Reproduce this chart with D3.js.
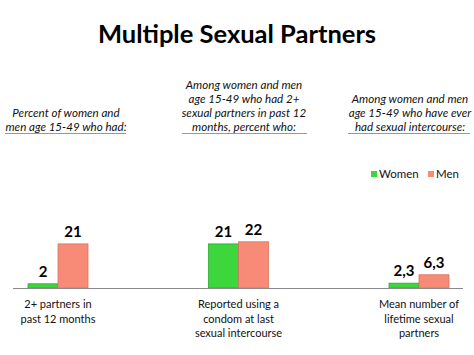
<!DOCTYPE html>
<html>
<head>
<meta charset="utf-8">
<script src="https://cdn.jsdelivr.net/npm/d3@7"></script>
<style>
  html, body { margin: 0; padding: 0; background: #fff; }
  svg { display: block; }
</style>
</head>
<body>
<svg id="chart" width="474" height="355"></svg>
<script>
const categories = ["2+ partners in|past 12 months", "Reported using a|condom at last|sexual intercourse", "Mean number of|lifetime sexual|partners"];
const seriesNames = ["Women", "Men"];
const women = [2, 21, 2.3];
const men = [21, 22, 6.3];
const womenLabels = ["2", "21", "2,3"];
const menLabels = ["21", "22", "6,3"];
const headers = [
  "Percent of women and|men age 15-49 who had:",
  "Among women and men|age 15-49 who had 2+|sexual partners in past 12|months, percent who:",
  "Among women and men|age 15-49 who have ever|had sexual intercourse:"
];
const title = "Multiple Sexual Partners";

const colors = { Women: "#3dd63d", Men: "#f88b78" };
const strokes = { Women: "#2ea82e", Men: "#d8735f" };

const svg = d3.select("#chart");
const font = "Lato, 'Open Sans', sans-serif";

// Title
svg.append("text")
  .attr("x", 237).attr("y", 43)
  .attr("text-anchor", "middle")
  .attr("font-family", font)
  .attr("font-weight", "bold")
  .attr("font-size", 25.5)
  .attr("fill", "#000")
  .text(title);

// Scales
const baseline = 288;
const y = d3.scaleLinear().domain([0, 22]).range([baseline, baseline - 46.2]);
const x0 = d3.scalePoint().domain(categories).range([58, 419]);
const x1 = d3.scaleBand().domain(seriesNames).range([-30, 30]).padding(0);

// Header annotations
const headerPos = [
  { cx: 66, lastY: 127, x1: 5, x2: 126 },
  { cx: 244, lastY: 127, x1: 182, x2: 307 },
  { cx: 410, lastY: 127, x1: 348, x2: 470 }
];
headers.forEach((h, i) => {
  const lines = h.split("|");
  const p = headerPos[i];
  const t = svg.append("text")
    .attr("text-anchor", "middle")
    .attr("font-family", font)
    .attr("font-style", "italic")
    .attr("font-size", 11.6)
    .attr("fill", "#111");
  lines.forEach((ln, j) => {
    t.append("tspan")
      .attr("x", p.cx)
      .attr("y", p.lastY + 4 - (lines.length - 1 - j) * 14)
      .text(ln);
  });
  svg.append("line")
    .attr("x1", p.x1).attr("x2", p.x2)
    .attr("y1", 133.5).attr("y2", 133.5)
    .attr("stroke", "#999").attr("stroke-width", 1);
});

// Legend
const legend = svg.append("g").attr("font-family", font).attr("font-size", 11.5);
const legendX = [371, 428];
seriesNames.forEach((s, i) => {
  legend.append("rect")
    .attr("x", legendX[i]).attr("y", 171)
    .attr("width", 6).attr("height", 6)
    .attr("fill", colors[s]);
  legend.append("text")
    .attr("x", legendX[i] + 8).attr("y", 178)
    .attr("fill", "#111")
    .text(s);
});

// Data
const data = categories.map((c, i) => ({
  cat: c,
  vals: [
    { s: "Women", v: women[i], label: womenLabels[i] },
    { s: "Men", v: men[i], label: menLabels[i] }
  ]
}));

const groups = svg.selectAll("g.grp").data(data).enter().append("g")
  .attr("class", "grp")
  .attr("transform", d => `translate(${x0(d.cat)},0)`);

groups.selectAll("rect").data(d => d.vals).enter().append("rect")
  .attr("x", d => x1(d.s))
  .attr("y", d => y(d.v))
  .attr("width", x1.bandwidth())
  .attr("height", d => baseline - y(d.v))
  .attr("fill", d => colors[d.s])
  .attr("stroke", d => strokes[d.s])
  .attr("stroke-width", 0.8);

groups.selectAll("text.val").data(d => d.vals).enter().append("text")
  .attr("class", "val")
  .attr("x", d => x1(d.s) + x1.bandwidth() / 2)
  .attr("y", d => y(d.v) - 7)
  .attr("text-anchor", "middle")
  .attr("font-family", font)
  .attr("font-weight", "bold")
  .attr("font-size", 15)
  .attr("fill", "#000")
  .text(d => d.label);

// Axis line
svg.append("line")
  .attr("x1", 13).attr("x2", 463)
  .attr("y1", baseline + 0.5).attr("y2", baseline + 0.5)
  .attr("stroke", "#888").attr("stroke-width", 1);

// Category labels
groups.each(function(d) {
  const lines = d.cat.split("|");
  const t = d3.select(this).append("text")
    .attr("text-anchor", "middle")
    .attr("font-family", font)
    .attr("font-size", 11)
    .attr("fill", "#111");
  lines.forEach((ln, j) => {
    t.append("tspan").attr("x", 0).attr("y", 308 + j * 14.5).text(ln);
  });
});
</script>
</body>
</html>
